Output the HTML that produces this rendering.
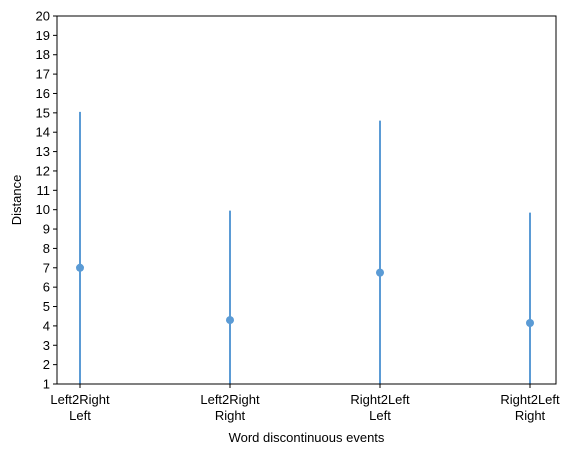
<!DOCTYPE html>
<html><head><meta charset="utf-8"><style>
body{margin:0;background:#fff;}
svg{display:block;font-family:"Liberation Sans","DejaVu Sans",sans-serif;}
</style></head><body>
<svg id="chart" width="576" height="454" viewBox="0 0 576 454"></svg>
<script>
const categories = ["Left2Right\nLeft","Left2Right\nRight","Right2Left\nLeft","Right2Left\nRight"];
const means = [7.0, 4.3, 6.75, 4.15];
const upper = [15.05, 9.95, 14.6, 9.85];
const lower = [0, 0, 0, 0];
const yTicks = [1,2,3,4,5,6,7,8,9,10,11,12,13,14,15,16,17,18,19,20];

const NS="http://www.w3.org/2000/svg";
const svg=document.getElementById('chart');
const L=57,R=556,T=16,B=384,yMin=1,yMax=20;
const xPos=[80,230,380,530];
function xs(i){return L+(xPos[i]-L)*(R-L)/(R-L);} // index-based positions
function x(i){const first=80,last=530;return first+i*(last-first)/(categories.length-1);}
function y(v){return B-(v-yMin)*(B-T)/(yMax-yMin);}
function el(t,a,p){const e=document.createElementNS(NS,t);for(const k in a)e.setAttribute(k,a[k]);(p||svg).appendChild(e);return e;}

const clip=el('clipPath',{id:'pc'});el('rect',{x:L,y:T,width:R-L,height:B-T},clip);
const gMarks=el('g',{'clip-path':'url(#pc)'});


categories.forEach((c,i)=>{
  const ln=el('line',{x1:x(i),x2:x(i),y1:y(upper[i]),y2:y(lower[i]),stroke:'#5b9bd5','stroke-width':2},gMarks);
  
  
  const pt=el('circle',{cx:x(i),cy:y(means[i]),r:4,fill:'#5b9bd5'},gMarks);
  
  
});

const frame=el('rect',{x:L,y:T,width:R-L,height:B-T,fill:'none',stroke:'#000','stroke-width':1});



const yAxis=el('g',{});


yTicks.forEach(v=>{
  el('line',{x1:L-4,x2:L,y1:y(v),y2:y(v),stroke:'#000'},yAxis);
  const t=el('text',{x:L-7,y:y(v)+4.5,'text-anchor':'end','font-size':13,fill:'#000'},yAxis);
  t.textContent=v;
  
  
});
const xAxis=el('g',{});


categories.forEach((c,i)=>{
  el('line',{x1:x(i),x2:x(i),y1:B,y2:B+4,stroke:'#000'},xAxis);
  c.split('\n').forEach((s,j)=>{
    const t=el('text',{x:x(i),y:B+20+j*16,'text-anchor':'middle','font-size':13,fill:'#000'},xAxis);
    t.textContent=s;
    
    
  });
});
const xt=el('text',{x:(L+R)/2,y:442,'text-anchor':'middle','font-size':13,fill:'#000'});
xt.textContent='Word discontinuous events';


const yt=el('text',{x:21,y:(T+B)/2,'text-anchor':'middle','font-size':13,fill:'#000',transform:'rotate(-90 21 '+((T+B)/2)+')'});
yt.textContent='Distance';


</script>
</body></html>
